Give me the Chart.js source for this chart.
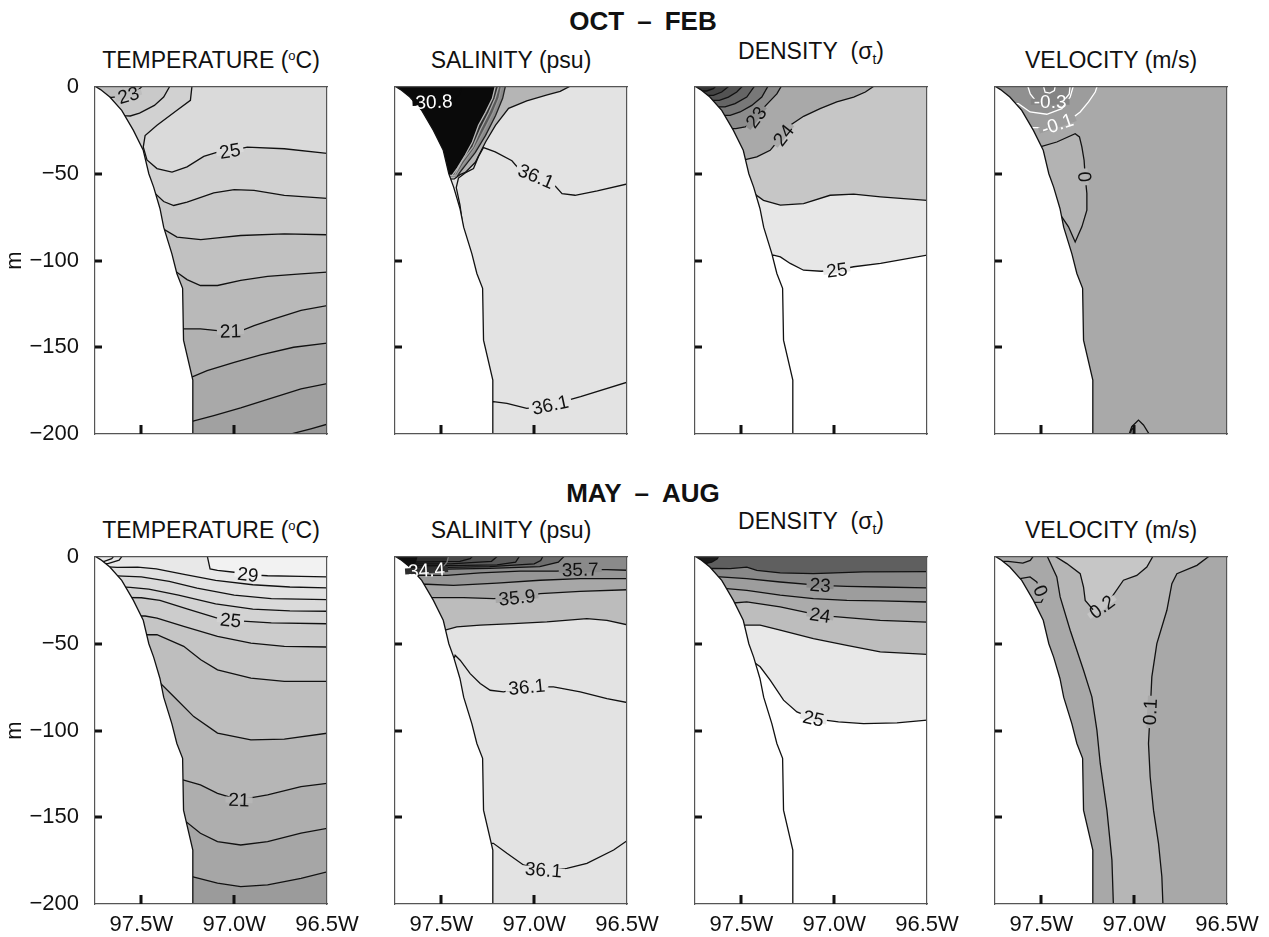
<!DOCTYPE html>
<html>
<head>
<meta charset="utf-8">
<title>Shelf sections</title>
<script src="https://cdn.jsdelivr.net/npm/chart.js@4.4.1/dist/chart.umd.min.js"></script>
<style>
  html, body { margin: 0; padding: 0; background: #fff; }
  body { width: 1269px; height: 937px; position: relative; overflow: hidden;
         font-family: "Liberation Sans", Arial, Helvetica, sans-serif; color: #111; }
  canvas { position: absolute; }
  .season { position: absolute; font-size: 26px; font-weight: bold; line-height: 26px;
            white-space: nowrap; transform: translateX(-50%); }
  .ptitle { position: absolute; font-size: 23px; line-height: 23px; white-space: nowrap;
            transform: translateX(-50%); }
  .ptitle sup { font-size: 13px; vertical-align: 8px; line-height: 0; }
  .ptitle sub { font-size: 14px; vertical-align: -5px; line-height: 0; }
</style>
</head>
<body>
<script>
// axis ticks
const lonTicks = [97.5, 97.0, 96.5];
const depthTicks = [0, -50, -100, -150, -200];

const seasonTitles = ['OCT\u2002\u2013\u2002FEB', 'MAY\u2002\u2013\u2002AUG'];
const panelTitles = ['TEMPERATURE (<sup>o</sup>C)', 'SALINITY (psu)',
                     'DENSITY&nbsp;&nbsp;(&sigma;<sub>t</sub>)', 'VELOCITY (m/s)'];

// sea floor along the section [lon W, depth m]
const shelf = [[97.75, 0.5], [97.72, -1.5], [97.67, -5.8], [97.606, -13.5], [97.543, -25],
  [97.49, -36.5], [97.46, -50], [97.434, -57.7], [97.40, -70], [97.38, -80.8], [97.336, -96],
  [97.309, -107.5], [97.278, -116], [97.273, -145.9], [97.223, -168.9], [97.223, -201]];

// ---- temperature, Oct-Feb ----
const tempWinterLevels = [18, 19, 20, 21, 22, 23, 24, 25, 24, 23];
const tempWinterLines = [
  [[97.8, -203], [96.70, -203], [96.695, -200], [96.64, -198.5], [96.587, -197], [96.48, -193.8]],
  [[97.8, -192.7], [97.227, -192.7], [97.11, -189.4], [96.965, -185], [96.82, -180], [96.64, -174], [96.48, -170.5]],
  [[97.8, -167.3], [97.232, -167.3], [97.146, -163.5], [97.0, -158.7], [96.857, -154.4], [96.68, -150], [96.48, -147.3]],
  [[97.8, -139.4], [97.276, -139.4], [97.182, -139.4], [97.09, -140.4], [97.02, -140.8], [96.95, -140], [96.893, -137.5], [96.785, -133.7], [96.64, -128.8], [96.48, -125.6]],
  [[97.8, -104.8], [97.335, -104.8], [97.254, -111], [97.182, -114.4], [97.09, -114.4], [96.965, -111.5], [96.82, -109.2], [96.64, -107.7], [96.48, -106.6]],
  [[97.8, -80.8], [97.398, -80.8], [97.308, -86.5], [97.18, -88], [97.09, -87], [96.965, -85.6], [96.73, -84.6], [96.48, -85.2]],
  [[97.8, -60.6], [97.434, -60.6], [97.38, -66], [97.326, -68.3], [97.254, -66.3], [97.11, -61], [97.0, -59.2], [96.893, -59.6], [96.73, -62.5], [96.48, -64.4]],
  [[97.227, 1], [97.236, -7.7], [97.31, -13.5], [97.416, -22], [97.48, -28], [97.49, -34.6], [97.47, -42], [97.416, -47], [97.335, -49], [97.254, -46], [97.164, -40], [97.09, -37.5], [97.023, -36.9], [96.93, -34.6], [96.73, -35.6], [96.48, -38.5]],
  [[97.8, -15], [97.60, -16.5], [97.56, -16.7], [97.51, -15], [97.43, -10.6], [97.38, -5.8], [97.344, 1]],
  [[97.8, -6], [97.66, -6], [97.60, -5.2], [97.57, -4.8], [97.53, -3], [97.49, 1]]
];

// ---- salinity, Oct-Feb ----
const saltWinterLevels = [36.0, 35.5, 34.5, 33.5, 32, 30.8, 36.1, 36.1];
const saltWinterLines = [
  [[97.8, -54], [97.43, -53], [97.40, -50.5], [97.371, -49.2], [97.317, -43.4], [97.262, -31.7], [97.208, -22], [97.138, -12.3], [97.04, -8], [96.93, -4.5], [96.86, -2.5], [96.797, 1]],
  [[97.8, -52], [97.414, -51], [97.371, -45.2], [97.317, -37.7], [97.262, -27.9], [97.208, -16.4], [97.17, -6.5], [97.154, 1]],
  [[97.8, -52], [97.42, -51], [97.38, -44], [97.325, -36], [97.275, -26], [97.225, -15.5], [97.19, -6.5], [97.175, 1]],
  [[97.8, -52], [97.43, -51], [97.39, -43], [97.33, -34.5], [97.29, -24.5], [97.245, -15], [97.21, -6.5], [97.19, 1]],
  [[97.8, -52], [97.441, -50.8], [97.414, -46.7], [97.371, -39.2], [97.333, -31.7], [97.30, -22], [97.262, -14.6], [97.225, -6.5], [97.208, 1]],
  [[97.8, -9], [97.64, -9], [97.54, -8.6], [97.44, -8], [97.40, -4], [97.39, 1]],
  [[97.8, -80], [97.385, -80], [97.40, -68], [97.42, -58], [97.408, -52.5], [97.372, -49.5], [97.327, -47], [97.30, -40], [97.273, -34.9], [97.21, -37.4], [97.12, -42.5], [97.08, -47.5], [96.99, -51.5], [96.90, -55.5], [96.85, -61.5], [96.78, -62.4], [96.66, -59.9], [96.48, -55.4]],
  [[97.8, -181.4], [97.22, -181.4], [97.147, -182.3], [97.04, -185.2], [96.914, -183.3], [96.75, -178.5], [96.48, -169.5]]
];

// ---- density, Oct-Feb ----
const densWinterLevels = [25, 24.5, 24, 23, 22.5, 22, 21.5, 21, 20.5];
const densWinterLines = [
  [[97.8, -97], [97.327, -96.9], [97.29, -97.9], [97.237, -101.7], [97.165, -105.6], [97.07, -106.2], [96.986, -105.6], [96.895, -103.6], [96.75, -101.7], [96.48, -96.5]],
  [[97.8, -59.5], [97.48, -59.5], [97.444, -60.5], [97.381, -65.3], [97.29, -68.1], [97.165, -67.2], [97.022, -62.4], [96.895, -61.8], [96.75, -63.3], [96.48, -65.5]],
  [[97.8, -42.2], [97.49, -42.2], [97.417, -40.3], [97.345, -36.5], [97.30, -30.7], [97.273, -27.8], [97.237, -22], [97.165, -16.9], [97.076, -12.5], [96.986, -8.6], [96.895, -5.8], [96.832, -2.9], [96.779, 1]],
  [[97.8, -24], [97.53, -24], [97.48, -23], [97.45, -21.5], [97.42, -17.5], [97.39, -13], [97.345, -8], [97.309, -4], [97.282, 1]],
  [[97.8, -16.3], [97.561, -16.3], [97.507, -14.4], [97.444, -10.6], [97.39, -5.8], [97.354, 1]],
  [[97.8, -11.5], [97.588, -11.5], [97.534, -9.6], [97.471, -5.8], [97.426, 1]],
  [[97.8, -7.7], [97.619, -7.7], [97.57, -5.8], [97.525, -2.9], [97.489, 1]],
  [[97.8, -4.8], [97.651, -4.8], [97.606, -2.9], [97.561, 1]],
  [[97.8, -2.3], [97.687, -2.3], [97.651, -1], [97.633, 1]]
];

// ---- alongshore velocity, Oct-Feb ----
const veloWinterLevels = [0, -0.1, -0.2, -0.3, -0.4, 0, 0];
const veloWinterLines = [
  [[97.8, -34.5], [97.507, -34.5], [97.417, -31.7], [97.318, -26.9], [97.295, -28.8], [97.282, -34.5], [97.27, -42.2], [97.264, -51.8], [97.255, -61.4], [97.255, -71], [97.282, -80.6], [97.318, -89.3], [97.354, -80.6], [97.39, -74.9], [97.8, -74.9]],
  [[97.8, -23.4], [97.543, -23.4], [97.471, -23.4], [97.414, -21.5], [97.345, -18.8], [97.291, -14.4], [97.246, -8.6], [97.21, -2.9], [97.198, 1]],
  [[97.8, -9.6], [97.624, -9.6], [97.561, -14.4], [97.471, -15.7], [97.39, -12.5], [97.345, -5.8], [97.327, 1]],
  [[97.575, 1], [97.56, -4], [97.53, -8], [97.453, -8.5], [97.38, -8], [97.35, -4], [97.345, 1]],
  [[97.49, 1], [97.48, -3], [97.455, -3.5], [97.43, -2], [97.425, 1]],
  [[97.03, -201], [97.013, -195.8], [96.977, -192], [96.95, -194.8], [96.914, -201]],
  [[97.022, -201], [97.015, -197.5], [97.003, -196.5], [96.998, -201]]
];

// ---- temperature, May-Aug ----
const tempSummerLevels = [19, 20, 21, 22, 23, 24, 25, 26, 27, 28, 29, 28.6, 28.4];
const tempSummerLines = [
  [[97.8, -184.2], [97.227, -184.2], [97.09, -188], [96.965, -190], [96.82, -189], [96.64, -185.2], [96.48, -181]],
  [[97.8, -151.5], [97.272, -151.5], [97.182, -159.2], [97.09, -164], [96.965, -166], [96.82, -164], [96.64, -159.2], [96.48, -156]],
  [[97.8, -128.5], [97.276, -128.5], [97.182, -131.3], [97.09, -136.2], [96.974, -140], [96.82, -137.1], [96.64, -132.3], [96.48, -130.2]],
  [[97.8, -70.8], [97.416, -70.8], [97.326, -80.4], [97.218, -92], [97.09, -101.5], [96.91, -105.4], [96.73, -105], [96.48, -101.3]],
  [[97.8, -44.8], [97.47, -44.8], [97.416, -44.8], [97.272, -51.5], [97.18, -59.2], [97.09, -65], [96.91, -69.8], [96.73, -71.7], [96.48, -71.7]],
  [[97.8, -34], [97.48, -34], [97.416, -35.2], [97.272, -40], [97.09, -45.8], [96.91, -49.6], [96.73, -51.5], [96.48, -51.9]],
  [[97.8, -23], [97.50, -23.5], [97.40, -25], [97.25, -30], [97.1, -35], [97.02, -36.5], [96.8, -38], [96.48, -38.5]],
  [[97.8, -16], [97.56, -17.5], [97.46, -18.5], [97.3, -22], [97.1, -27], [96.9, -30], [96.7, -31], [96.48, -31.3]],
  [[97.8, -10], [97.60, -11], [97.50, -11.5], [97.35, -14], [97.2, -18], [97.0, -22], [96.8, -24], [96.48, -24.6]],
  [[97.8, -5], [97.63, -6], [97.52, -5.8], [97.42, -6.9], [97.27, -10], [97.1, -13.5], [96.9, -16], [96.7, -17.3], [96.48, -17.8]],
  [[97.146, 1], [97.13, -6.9], [97.09, -7.7], [97.0, -8.8], [96.926, -10.2], [96.82, -10.8], [96.64, -11.2], [96.48, -11.5]],
  [[97.8, -2.5], [97.70, -2.5], [97.66, -1], [97.645, 1]],
  [[97.8, -3.5], [97.68, -3.8], [97.62, -1.8], [97.60, 1]]
];

// ---- salinity, May-Aug ----
const saltSummerLevels = [36.0, 35.9, 35.8, 35.7, 35.6, 35.5, 35.4, 35.3, 35.2, 34.4, 34.0, 36.1, 36.1];
const saltSummerLines = [
  [[97.8, -42.2], [97.48, -42.2], [97.417, -40.3], [97.291, -39.3], [97.112, -38.4], [96.932, -37.4], [96.716, -35.5], [96.608, -36.5], [96.48, -39.5]],
  [[97.8, -23.4], [97.534, -23.4], [97.381, -23.4], [97.219, -24], [97.093, -23.4], [96.968, -21.1], [96.752, -19.8], [96.48, -18.8]],
  [[97.8, -15.7], [97.579, -15.7], [97.435, -16.3], [97.201, -15], [96.968, -13.4], [96.752, -12.5], [96.48, -12.5]],
  [[97.8, -10.6], [97.615, -10.6], [97.471, -10.6], [97.291, -9.2], [97.076, -8.1], [96.878, -8.1], [96.752, -7.3], [96.608, -7.3], [96.48, -7.7]],
  [[97.8, -7.3], [97.64, -7.3], [97.47, -7], [97.24, -6.5], [96.97, -5.5], [96.87, -3], [96.833, 1]],
  [[97.8, -6], [97.65, -6], [97.47, -6], [97.24, -5.5], [97.0, -4], [96.965, -2], [96.95, 1]],
  [[97.8, -5], [97.66, -5], [97.47, -5], [97.2, -4.5], [97.1, -3], [97.076, 1]],
  [[97.8, -4], [97.67, -4], [97.45, -4], [97.23, -2.5], [97.192, 1]],
  [[97.8, -3], [97.68, -3], [97.40, -2.5], [97.345, -1], [97.327, 1]],
  [[97.8, -9], [97.66, -8], [97.58, -7.7], [97.50, -7], [97.47, -3], [97.46, 1]],
  [[97.8, -5], [97.67, -5], [97.64, -3], [97.63, 1]],
  [[97.8, -60], [97.43, -58], [97.426, -56.6], [97.399, -59.5], [97.345, -67.2], [97.291, -72.9], [97.237, -76.8], [97.165, -77.7], [97.04, -74.9], [96.896, -74.9], [96.752, -77.7], [96.608, -81.6], [96.48, -84.3]],
  [[97.8, -165], [97.22, -165], [97.147, -170.8], [97.058, -177.5], [96.95, -180.4], [96.824, -179.5], [96.716, -176.6], [96.572, -168.9], [96.48, -162]]
];

// ---- density, May-Aug ----
const densSummerLevels = [25, 24.5, 24, 23.5, 23, 22.5, 21];
const densSummerLines = [
  [[97.8, -60.5], [97.435, -60.5], [97.399, -63.3], [97.345, -71], [97.273, -82.5], [97.201, -89.3], [97.112, -93.1], [96.977, -95], [96.842, -96], [96.662, -95.6], [96.48, -93.8]],
  [[97.8, -39.3], [97.498, -39.3], [97.399, -39.3], [97.291, -42.2], [97.112, -47], [96.932, -50.9], [96.752, -54.7], [96.48, -56.2]],
  [[97.8, -26.5], [97.543, -26.5], [97.471, -25.9], [97.291, -28.8], [97.076, -33.6], [96.932, -34.9], [96.752, -36.5], [96.48, -37.6]],
  [[97.8, -18.2], [97.579, -18.2], [97.471, -19.2], [97.291, -22], [97.112, -24], [96.932, -25], [96.752, -25.3], [96.48, -26]],
  [[97.8, -11.5], [97.615, -11.5], [97.471, -12.5], [97.291, -14.4], [97.076, -16.3], [96.932, -16.9], [96.752, -17.3], [96.48, -17.8]],
  [[97.8, -6.7], [97.651, -6.5], [97.561, -6.7], [97.471, -5.8], [97.417, -7.7], [97.291, -9.2], [97.112, -9.6], [96.842, -8.6], [96.48, -8.4]],
  [[97.8, -4], [97.70, -4], [97.66, -3], [97.63, -1], [97.62, 1]]
];

// ---- alongshore velocity, May-Aug ----
const veloSummerLevels = [0.1, 0.1, 0.2, 0, 0];
const veloSummerLines = [
  [[97.471, 1], [97.417, -11.5], [97.399, -23], [97.345, -42.2], [97.273, -65.3], [97.228, -80.6], [97.201, -99.8], [97.183, -119], [97.147, -145.9], [97.12, -174.7], [97.112, -201]],
  [[96.59, 1], [96.662, -4.8], [96.77, -9.6], [96.797, -15.4], [96.824, -30.7], [96.878, -49.9], [96.905, -69.1], [96.914, -89.3], [96.923, -107.5], [96.914, -126.7], [96.896, -145.9], [96.869, -165.1], [96.851, -184.3], [96.845, -201]],
  [[97.435, 1], [97.363, -3.8], [97.291, -9.6], [97.273, -17.3], [97.264, -25], [97.219, -30.7], [97.174, -28.8], [97.12, -23], [97.058, -13.4], [96.986, -10.6], [96.932, -5.8], [96.896, 1]],
  [[97.8, -12.5], [97.615, -12.5], [97.561, -11.5], [97.525, -14.4], [97.504, -19.6], [97.489, -23.4], [97.50, -26], [97.8, -27]],
  [[97.8, -2.5], [97.68, -2.5], [97.6, -3.5], [97.56, -2], [97.54, 1]]
];

// shading per band (colour of the side above/inside each contour), line ink and label spots
const panels = [
  { row: 0, col: 0, levels: tempWinterLevels, lines: tempWinterLines, base: '#979797',
    shade: ['#a1a1a1', '#a9a9a9', '#b1b1b1', '#b9b9b9', '#c1c1c1', '#c9c9c9', '#d1d1d1', '#dadada', '#c9c9c9', '#bebebe'],
    labels: [[3, 4], [7, 12], [9, 3]] },
  { row: 0, col: 1, levels: saltWinterLevels, lines: saltWinterLines, base: '#e3e3e3',
    shade: ['#b5b5b5', '#8a8a8a', '#5a5a5a', '#303030', '#0a0a0a', '#0a0a0a', null, null],
    ink: ['#111', '#222', '#999', '#aaa', '#bbb', '#0a0a0a'],
    labels: [[5, 2], [6, 12], [7, 4]] },
  { row: 0, col: 2, levels: densWinterLevels, lines: densWinterLines, base: '#ffffff',
    shade: ['#e7e7e7', '#c6c6c6', '#a9a9a9', '#8c8c8c', '#787878', '#656565', '#535353', '#434343', '#333333'],
    labels: [[0, 6], [2, 5], [3, 4]] },
  { row: 0, col: 3, levels: veloWinterLevels, lines: veloWinterLines, base: '#a9a9a9',
    shade: ['#b3b3b3', '#9c9c9c', '#909090', '#848484', '#787878', null, null],
    mode: ['loop'],
    ink: ['#111', '#fff', '#fff', '#fff', '#fff'],
    labels: [[0, 7], [1, 3], [3, 3]] },
  { row: 1, col: 0, levels: tempSummerLevels, lines: tempSummerLines, base: '#9b9b9b',
    shade: ['#a6a6a6', '#aeaeae', '#b6b6b6', '#bebebe', '#c5c5c5', '#cccccc', '#d3d3d3', '#dadada', '#e1e1e1', '#e8e8e8', '#f2f2f2', null, null],
    labels: [[2, 4], [6, 5], [10, 4]] },
  { row: 1, col: 1, levels: saltSummerLevels, lines: saltSummerLines, base: '#e3e3e3',
    shade: ['#bcbcbc', '#a7a7a7', '#969696', '#8a8a8a', '#6d6d6d', '#636363', '#5a5a5a', '#525252', '#4a4a4a', '#2e2e2e', '#0e0e0e', null, null],
    ink: ['#111', '#111', '#111', '#111', '#111', '#111', '#111', '#111', '#111', '#777', '#0e0e0e'],
    labels: [[1, 4], [3, 6], [9, 2], [11, 8], [12, 4]] },
  { row: 1, col: 2, levels: densSummerLevels, lines: densSummerLines, base: '#ffffff',
    shade: ['#e8e8e8', '#bdbdbd', '#ababab', '#9d9d9d', '#888888', '#5f5f5f', '#1a1a1a'],
    labels: [[0, 6], [2, 4], [4, 4]] },
  { row: 1, col: 3, levels: veloSummerLevels, lines: veloSummerLines, base: '#a8a8a8',
    shade: ['#b6b6b6', null, '#c6c6c6', null, null],
    mode: [1],
    labels: [[1, 7], [2, 6], [3, 4]] }
];

const AREA_LEFT = [95, 395, 695, 995];
const AREA_TOP = [87, 557];
const AREA_W = 232, AREA_H = 347;
const AXIS_W = 95, AXIS_H = 45, PAD_TOP = 14, PAD_RIGHT = 40;
const FONT = '"Liberation Sans", Arial, Helvetica, sans-serif';

Chart.defaults.font.family = FONT;
Chart.defaults.color = '#111';

// headings
seasonTitles.forEach((t, r) => {
  const d = document.createElement('div');
  d.className = 'season';
  d.textContent = t;
  d.style.left = '643px';
  d.style.top = (r === 0 ? 8 : 480) + 'px';
  document.body.appendChild(d);
});
[0, 1].forEach(r => panelTitles.forEach((t, c) => {
  const d = document.createElement('div');
  d.className = 'ptitle';
  d.innerHTML = t;
  d.style.left = (AREA_LEFT[c] + AREA_W / 2) + 'px';
  d.style.top = (AREA_TOP[r] - (c === 2 ? 47 : 38)) + 'px';
  document.body.appendChild(d);
}));

const xy = p => ({ x: p[0], y: p[1] });
const isDark = hex => parseInt(hex.slice(1, 3), 16) < 100;

function drawPanel(p) {
  const canvas = document.createElement('canvas');
  canvas.width = AXIS_W + AREA_W + PAD_RIGHT;
  canvas.height = PAD_TOP + AREA_H + AXIS_H;
  canvas.style.left = (AREA_LEFT[p.col] - AXIS_W) + 'px';
  canvas.style.top = (AREA_TOP[p.row] - PAD_TOP) + 'px';
  document.body.appendChild(canvas);

  const ink = i => (p.ink && p.ink[i]) || '#111';
  const datasets = [];

  // filled bands, painted from the outermost contour inwards
  p.lines.forEach((pts, i) => {
    const shade = p.shade[i];
    if (!shade) return;
    const mode = (p.mode && p.mode[i] !== undefined) ? p.mode[i] : 'up';
    let ring;
    if (mode === 'up') ring = pts.concat([[pts[pts.length - 1][0], 20], [pts[0][0], 20]]);
    else if (mode === 'loop') ring = pts;
    else ring = pts.concat(p.lines[mode].slice().reverse());
    datasets.push({ data: ring.map(xy), fill: 'shape', backgroundColor: shade, borderWidth: 0 });
  });
  // contour lines on top of all bands
  p.lines.forEach((pts, i) => {
    datasets.push({ data: pts.map(xy), fill: false, borderColor: ink(i), borderWidth: 1.3 });
  });
  // the shelf itself
  datasets.push({ data: shelf.concat([[97.223, -215], [97.8, -215], [97.8, 5], [97.75, 5]]).map(xy),
                  fill: 'shape', backgroundColor: '#ffffff', borderWidth: 0 });
  datasets.push({ data: shelf.map(xy), fill: false, borderColor: '#111', borderWidth: 1.3 });
  datasets.forEach((d, i) => { d.order = datasets.length - i; d.pointRadius = 0; d.tension = 0; });

  const frame = { display: true, color: '#555', width: 1.2, z: 1 };
  const tickFont = { size: 22, family: FONT };

  const background = {
    id: 'background',
    beforeDatasetsDraw(chart) {
      const { ctx, chartArea: a } = chart;
      ctx.save();
      ctx.fillStyle = p.base;
      ctx.fillRect(a.left, a.top, a.width, a.height);
      ctx.restore();
    }
  };

  const contourLabels = {
    id: 'contourLabels',
    afterDatasetsDraw(chart) {
      const { ctx, scales: { x, y } } = chart;
      ctx.save();
      ctx.font = '19px ' + FONT;
      ctx.textAlign = 'center';
      ctx.textBaseline = 'middle';
      p.labels.forEach(([li, pi]) => {
        const pts = p.lines[li];
        const px = x.getPixelForValue(pts[pi][0]);
        const py = y.getPixelForValue(pts[pi][1]);
        const a = pts[pi - 1], b = pts[pi + 1];
        let ang = Math.atan2(y.getPixelForValue(b[1]) - y.getPixelForValue(a[1]),
                             x.getPixelForValue(b[0]) - x.getPixelForValue(a[0]));
        // keep text upright; near-vertical labels read upwards
        if (ang > 1.4) ang -= Math.PI;
        if (ang < -Math.PI / 2 - 0.2) ang += Math.PI;
        const text = String(p.levels[li]);
        const w = ctx.measureText(text).width;
        const mask = p.shade[li] || p.base;
        ctx.save();
        ctx.translate(px, py);
        ctx.rotate(ang);
        ctx.fillStyle = mask;
        ctx.fillRect(-w / 2 - 3, -3, w + 6, 6);
        ctx.fillStyle = (ink(li) === '#fff' || isDark(mask)) ? '#ffffff' : '#111';
        ctx.fillText(text, 0, 1);
        ctx.restore();
      });
      ctx.restore();
    }
  };

  // short tick marks pointing into the plot
  const insideTicks = {
    id: 'insideTicks',
    afterDraw(chart) {
      const { ctx, chartArea: { left, bottom }, scales: { x, y } } = chart;
      ctx.save();
      ctx.strokeStyle = '#111';
      ctx.lineWidth = 3;
      ctx.beginPath();
      depthTicks.slice(1, -1).forEach(v => {
        const py = Math.round(y.getPixelForValue(v));
        ctx.moveTo(left, py); ctx.lineTo(left + 7, py);
      });
      lonTicks.slice(0, -1).forEach(v => {
        const px = Math.round(x.getPixelForValue(v));
        ctx.moveTo(px, bottom); ctx.lineTo(px, bottom - 9);
      });
      ctx.stroke();
      ctx.restore();
    }
  };

  new Chart(canvas, {
    type: 'line',
    data: { datasets },
    options: {
      responsive: false,
      animation: false,
      events: [],
      layout: { padding: { left: 0, top: PAD_TOP, right: PAD_RIGHT, bottom: 0 } },
      plugins: { legend: { display: false }, tooltip: { enabled: false } },
      scales: {
        x: {
          type: 'linear', position: 'bottom', min: 96.5, max: 97.75, reverse: true,
          grid: { display: false }, border: frame,
          afterBuildTicks: s => { s.ticks = lonTicks.map(v => ({ value: v })); },
          ticks: { display: p.row === 1, font: tickFont, color: '#111', padding: 0,
                   maxRotation: 0, autoSkip: false, callback: v => v.toFixed(1) + 'W' },
          afterFit: s => { s.height = AXIS_H; s.paddingLeft = 0; s.paddingRight = 0; }
        },
        xTop: {
          type: 'linear', position: 'top', min: 96.5, max: 97.75, reverse: true, display: true,
          grid: { display: false }, border: frame, ticks: { display: false },
          afterFit: s => { s.height = 0; s.paddingLeft = 0; s.paddingRight = 0; }
        },
        y: {
          type: 'linear', position: 'left', min: -200, max: 0,
          grid: { display: false }, border: frame,
          afterBuildTicks: s => { s.ticks = depthTicks.map(v => ({ value: v })); },
          ticks: { display: p.col === 0, font: tickFont, color: '#111', padding: 8,
                   callback: v => (v === 0 ? '0' : '\u2212' + Math.abs(v)) },
          title: { display: p.col === 0, text: 'm', color: '#111', font: { size: 22, family: FONT },
                   padding: { top: 2, bottom: 0 } },
          afterFit: s => { s.width = AXIS_W; s.paddingTop = 0; s.paddingBottom = 0; }
        },
        yRight: {
          type: 'linear', position: 'right', min: -200, max: 0, display: true,
          grid: { display: false }, border: frame, ticks: { display: false },
          afterFit: s => { s.width = 0; s.paddingTop = 0; s.paddingBottom = 0; }
        }
      }
    },
    plugins: [background, contourLabels, insideTicks]
  });
}

panels.forEach(drawPanel);
</script>
</body>
</html>
